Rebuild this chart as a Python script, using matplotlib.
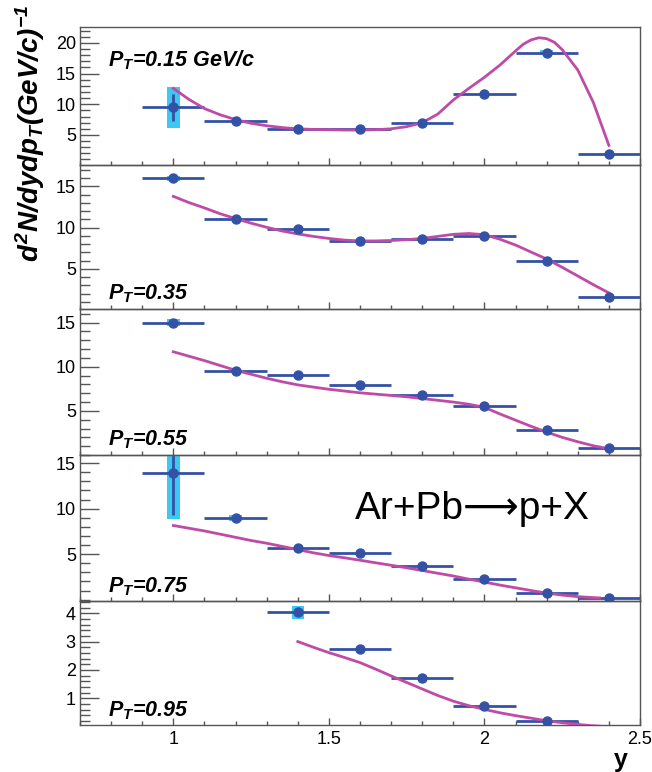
import matplotlib
matplotlib.use("Agg")
import matplotlib.pyplot as plt
from matplotlib.patches import Rectangle
from matplotlib.ticker import MultipleLocator, FormatStrFormatter

# ---------------------------------------------------------------
# Proton spectra d2N/dydpT vs rapidity, Ar+Pb, five pT slices
# ---------------------------------------------------------------
plt.rcParams["font.family"] = ["Liberation Sans", "DejaVu Sans"]
plt.rcParams["mathtext.fontset"] = "custom"
plt.rcParams["mathtext.rm"] = "Liberation Sans:italic:bold"
plt.rcParams["mathtext.it"] = "Liberation Sans:italic:bold"
plt.rcParams["mathtext.bf"] = "Liberation Sans:italic:bold"

BLUE = "#3452a5"
CYAN = "#3cc8f0"
MAGENTA = "#c04ba6"
FRAME = "#555555"

# rapidity bin centres (bin width 0.2)
y_bins = [1.0, 1.2, 1.4, 1.6, 1.8, 2.0, 2.2, 2.4]
y_bins_095 = [1.4, 1.6, 1.8, 2.0, 2.2]

# measured yields
pt015_val = [9.5, 7.2, 5.9, 5.9, 7.0, 11.7, 18.4, 1.95]
pt035_val = [16.0, 11.07, 9.8, 8.43, 8.64, 8.97, 6.0, 1.6]
pt055_val = [15.0, 9.5, 9.1, 7.9, 6.8, 5.5, 2.8, 0.8]
pt075_val = [13.97, 8.97, 5.7, 5.08, 3.74, 2.26, 0.7, 0.22]
pt095_val = [4.03, 2.73, 1.71, 0.73, 0.21]

# statistical errors
pt015_stat = [2.25, 0, 0, 0, 0, 0, 0, 0]
pt035_stat = [0, 0, 0, 0, 0, 0, 0, 0]
pt055_stat = [0, 0, 0, 0, 0, 0, 0, 0]
pt075_stat = [4.7, 0, 0, 0, 0, 0, 0, 0]
pt095_stat = [0, 0, 0, 0, 0]

# systematic errors (boxes)
pt015_sys = [3.3, 0, 0, 0, 0, 0, 0.4, 0]
pt035_sys = [0.3, 0, 0, 0, 0, 0, 0, 0]
pt055_sys = [0.4, 0, 0, 0, 0, 0, 0, 0]
pt075_sys = [5.1, 0.35, 0, 0, 0, 0, 0, 0]
pt095_sys = [0.24, 0, 0, 0, 0]

# model curves
fit015_x = [1.0, 1.05, 1.1, 1.15, 1.2, 1.25, 1.3, 1.35, 1.4, 1.45, 1.5, 1.55, 1.6, 1.65, 1.7,
            1.75, 1.8, 1.85, 1.9, 1.95, 2.0, 2.05, 2.1, 2.125, 2.15, 2.175, 2.2, 2.225, 2.25,
            2.3, 2.35, 2.4]
fit015 = [12.6, 10.8, 9.3, 8.3, 7.5, 6.9, 6.5, 6.2, 6.0, 5.9, 5.85, 5.8, 5.8, 5.85, 6.0,
          6.35, 7.0, 8.4, 10.7, 12.6, 14.4, 16.4, 18.7, 19.8, 20.5, 20.85, 20.7, 20.1, 18.9,
          15.6, 10.3, 3.3]
fit_x = [1.0, 1.05, 1.1, 1.15, 1.2, 1.25, 1.3, 1.35, 1.4, 1.45, 1.5, 1.55, 1.6, 1.65, 1.7,
         1.75, 1.8, 1.85, 1.9, 1.95, 2.0, 2.05, 2.1, 2.15, 2.2, 2.25, 2.3, 2.35, 2.4]
fit035 = [13.8, 13.05, 12.4, 11.7, 11.1, 10.55, 10.05, 9.6, 9.25, 8.95, 8.7, 8.5, 8.4, 8.4, 8.45,
          8.55, 8.7, 8.95, 9.2, 9.3, 9.15, 8.6, 7.9, 7.05, 6.2, 5.2, 4.15, 3.1, 2.1]
fit055 = [11.7, 11.2, 10.7, 10.15, 9.6, 9.15, 8.7, 8.3, 7.95, 7.7, 7.45, 7.25, 7.05, 6.9, 6.75,
          6.6, 6.4, 6.2, 6.0, 5.75, 5.4, 4.65, 3.95, 3.25, 2.6, 2.0, 1.5, 1.05, 0.7]
fit075_x = [1.0, 1.05, 1.1, 1.15, 1.2, 1.25, 1.3, 1.35, 1.4, 1.45, 1.5, 1.55, 1.6, 1.65, 1.7,
            1.75, 1.8, 1.85, 1.9, 1.95, 2.0, 2.05, 2.1, 2.15, 2.2, 2.25, 2.3, 2.35, 2.37]
fit075 = [8.15, 7.85, 7.55, 7.2, 6.85, 6.5, 6.2, 5.85, 5.5, 5.15, 4.85, 4.6, 4.33, 4.05, 3.78,
          3.5, 3.2, 2.9, 2.6, 2.25, 1.93, 1.6, 1.3, 1.0, 0.72, 0.5, 0.33, 0.22, 0.19]
fit095_x = [1.4, 1.45, 1.5, 1.55, 1.6, 1.65, 1.7, 1.75, 1.8, 1.85, 1.9, 1.95, 2.0, 2.05, 2.1,
            2.15, 2.2, 2.25, 2.3, 2.35, 2.37]
fit095 = [3.0, 2.8, 2.61, 2.44, 2.26, 2.03, 1.79, 1.56, 1.33, 1.1, 0.9, 0.74, 0.61, 0.49, 0.39,
          0.3, 0.21, 0.14, 0.08, 0.03, 0.02]

pt_labels = [r"$P_T$=0.15 GeV/c", r"$P_T$=0.35", r"$P_T$=0.55", r"$P_T$=0.75", r"$P_T$=0.95"]

panels = [
    (y_bins, pt015_val, pt015_stat, pt015_sys, fit015_x, fit015, (0.1, 22.6), [5, 10, 15, 20], 1),
    (y_bins, pt035_val, pt035_stat, pt035_sys, fit_x, fit035, (0.15, 17.6), [5, 10, 15], 1),
    (y_bins, pt055_val, pt055_stat, pt055_sys, fit_x, fit055, (0.0, 16.55), [5, 10, 15], 1),
    (y_bins, pt075_val, pt075_stat, pt075_sys, fit075_x, fit075, (-0.15, 15.9), [5, 10, 15], 1),
    (y_bins_095, pt095_val, pt095_stat, pt095_sys, fit095_x, fit095, (0.06, 4.43), [1, 2, 3, 4], 0.2),
]

# layout in pixels
W, H = 652, 772
edges = [27, 165, 309, 455, 601, 725]
label_base = [66, 299, 445, 592, 716]
left, right = 80, 640

fig = plt.figure(figsize=(W / 100, H / 100), dpi=100)

for i, (xs, vals, stat, sys, fx, fy, ylim, yticks, yminor) in enumerate(panels):
    top, bot = edges[i], edges[i + 1]
    ax = fig.add_axes([left / W, 1 - bot / H, (right - left) / W, (bot - top) / H])

    # systematic boxes
    for x, v, s in zip(xs, vals, sys):
        if s > 0:
            ax.add_patch(Rectangle((x - 0.02, v - s), 0.04, 2 * s, color=CYAN, lw=0, zorder=1))

    ax.errorbar(xs, vals, xerr=0.1, yerr=stat, fmt="none", ecolor=BLUE,
                elinewidth=2, capsize=0, zorder=2)
    ax.plot(fx, fy, color=MAGENTA, lw=2, zorder=3)
    ax.plot(xs, vals, "o", color=BLUE, ms=6.5, mec=BLUE, zorder=4)

    ax.set_xlim(0.7, 2.5)
    ax.set_ylim(*ylim)
    ax.set_yticks(yticks)
    ax.yaxis.set_minor_locator(MultipleLocator(yminor))
    ax.xaxis.set_major_locator(MultipleLocator(0.5))
    ax.xaxis.set_minor_locator(MultipleLocator(0.1))
    ax.yaxis.set_major_formatter(FormatStrFormatter("%g"))
    ax.xaxis.set_major_formatter(FormatStrFormatter("%g"))

    ax.tick_params(axis="y", which="major", direction="in", length=14, width=1,
                   color=FRAME, labelsize=13, pad=3, right=False)
    ax.tick_params(axis="y", which="minor", direction="in", length=7, width=1,
                   color=FRAME, right=False)
    ax.tick_params(axis="x", which="major", direction="in", length=5, width=1,
                   color=FRAME, labelsize=13, pad=4, top=False,
                   labelbottom=(i == len(panels) - 1))
    ax.tick_params(axis="x", which="minor", direction="in", length=3, width=1,
                   color=FRAME, top=False)
    for sp in ax.spines.values():
        sp.set_color(FRAME)
        sp.set_linewidth(1)
    ax.patch.set_alpha(0)

    fig.text(108 / W, 1 - label_base[i] / H, pt_labels[i], fontsize=15.5,
             fontweight="bold", fontstyle="italic", ha="left", va="baseline")

fig.text(472 / W, 1 - 519 / H, "Ar+Pb\u27f6p+X", fontsize=28, ha="center", va="baseline")

fig.text(30 / W, 1 - 133 / H, r"$d^2N/dydp_T(GeV/c)^{-1}$", fontsize=20,
         rotation=90, ha="center", va="center")
fig.text(621 / W, 1 - 767 / H, "y", fontsize=18, fontweight="bold", ha="center", va="baseline")

fig.savefig("out.png", dpi=100)
